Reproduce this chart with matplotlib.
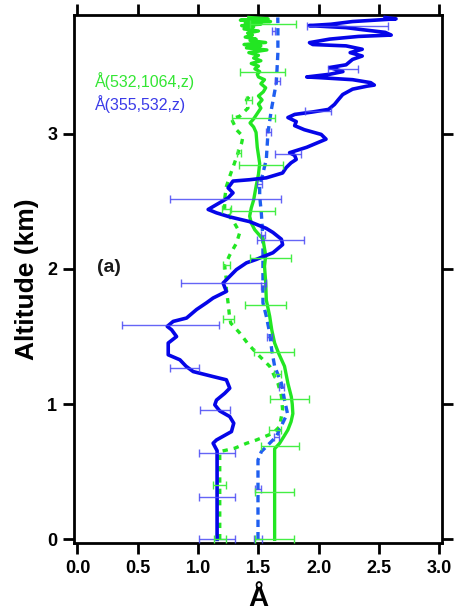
import matplotlib
matplotlib.use("Agg")
import matplotlib.pyplot as plt

plt.rcParams['font.family'] = ['Liberation Sans', 'DejaVu Sans']

# Angstrom exponent profiles: altitude (km) and exponent value
alt_b355 = [0.00, 0.656, 0.711, 0.735, 0.797, 0.859, 0.908, 0.950, 0.995, 1.03, 1.08, 1.118,
            1.18, 1.204, 1.241, 1.28, 1.328, 1.365, 1.452, 1.50, 1.55, 1.575, 1.612, 1.637,
            1.70, 1.75, 1.785, 1.834, 1.896, 1.92, 1.995, 2.045, 2.07, 2.12, 2.18, 2.22,
            2.27, 2.30, 2.35, 2.385, 2.415, 2.44, 2.476, 2.526, 2.563, 2.60, 2.65, 2.66,
            2.674, 2.71, 2.75, 2.785, 2.81, 2.84, 2.86, 2.90, 2.93, 2.96, 2.995, 3.03,
            3.06, 3.09, 3.12, 3.143, 3.16, 3.18, 3.217, 3.25, 3.29, 3.33, 3.352, 3.36,
            3.378, 3.40, 3.415, 3.42, 3.44, 3.46, 3.49, 3.51, 3.55, 3.575, 3.60, 3.625,
            3.65, 3.66, 3.674, 3.70, 3.72, 3.73, 3.75, 3.77, 3.785, 3.80, 3.81, 3.83,
            3.85, 3.86]
ang_b355 = [1.157, 1.157, 1.124, 1.152, 1.276, 1.295, 1.262, 1.179, 1.138, 1.152, 1.22, 1.262,
            1.234, 1.124, 0.959, 0.90, 0.849, 0.752, 0.752, 0.821, 0.780, 0.744, 0.793, 0.904,
            0.987, 1.07, 1.124, 1.234, 1.207, 1.234, 1.317, 1.40, 1.48, 1.62, 1.70, 1.69,
            1.62, 1.565, 1.427, 1.262, 1.152, 1.083, 1.152, 1.248, 1.289, 1.248, 1.289, 1.427,
            1.565, 1.70, 1.73, 1.77, 1.813, 1.80, 1.758, 1.90, 1.98, 2.06, 2.02, 1.88,
            1.80, 1.813, 1.744, 1.80, 1.94, 2.08, 2.13, 2.16, 2.198, 2.28, 2.40, 2.46,
            2.43, 2.28, 2.006, 1.90, 2.09, 2.20, 2.09, 2.226, 2.28, 2.36, 2.26, 2.36,
            2.226, 1.95, 1.923, 2.09, 2.33, 2.60, 2.55, 2.36, 2.226, 1.92, 2.10, 2.28,
            2.64, 2.55]

alt_b355_n = [0.00, 0.587, 0.649, 0.711, 0.76, 0.859, 0.933, 1.03, 1.155, 1.28, 1.40, 1.526,
              1.65, 1.75, 1.946, 2.22, 2.41, 2.54, 2.61, 2.81, 3.01, 3.18, 3.378, 3.60,
              3.80, 3.86]
ang_b355_n = [1.496, 1.496, 1.524, 1.593, 1.648, 1.70, 1.74, 1.716, 1.69, 1.634, 1.61, 1.593,
              1.565, 1.537, 1.537, 1.537, 1.524, 1.51, 1.51, 1.565, 1.579, 1.607, 1.648, 1.661,
              1.661, 1.66]

alt_g532 = [0.00, 0.67, 0.71, 0.76, 0.81, 0.87, 0.93, 1.00, 1.056, 1.15, 1.28, 1.37,
            1.452, 1.55, 1.65, 1.77, 1.90, 2.02, 2.10, 2.22, 2.29, 2.34, 2.39, 2.45,
            2.51, 2.61, 2.70, 2.78, 2.90, 3.01, 3.05, 3.08, 3.11, 3.15, 3.19, 3.22,
            3.25, 3.28, 3.31, 3.34, 3.37, 3.40, 3.42, 3.44, 3.46, 3.48, 3.50, 3.52,
            3.54, 3.56, 3.58, 3.60, 3.62, 3.635, 3.65, 3.66, 3.675, 3.69, 3.70, 3.715,
            3.73, 3.745, 3.76, 3.775, 3.79, 3.80, 3.81, 3.82, 3.83, 3.84, 3.85, 3.86]
ang_g532 = [1.634, 1.634, 1.675, 1.71, 1.744, 1.77, 1.785, 1.78, 1.772, 1.745, 1.716, 1.67,
            1.634, 1.61, 1.593, 1.565, 1.56, 1.55, 1.56, 1.537, 1.469, 1.44, 1.427, 1.44,
            1.46, 1.48, 1.50, 1.51, 1.49, 1.48, 1.46, 1.43, 1.46, 1.49, 1.52, 1.50,
            1.53, 1.50, 1.54, 1.56, 1.52, 1.55, 1.50, 1.49, 1.51, 1.47, 1.50, 1.44,
            1.52, 1.46, 1.50, 1.42, 1.57, 1.40, 1.52, 1.38, 1.56, 1.43, 1.48, 1.39,
            1.45, 1.41, 1.50, 1.38, 1.46, 1.36, 1.52, 1.39, 1.60, 1.35, 1.58, 1.42]

alt_g532_n = [0.00, 0.649, 0.674, 0.71, 0.735, 0.785, 0.834, 0.958, 1.06, 1.155, 1.28, 1.378,
              1.45, 1.526, 1.60, 1.65, 1.75, 1.85, 1.92, 2.02, 2.10, 2.19, 2.27, 2.34,
              2.44, 2.52, 2.61, 2.686, 2.78, 2.86, 2.93, 2.98, 3.03, 3.06, 3.11, 3.13,
              3.19, 3.25, 3.30]
ang_g532_n = [1.179, 1.179, 1.303, 1.40, 1.483, 1.62, 1.675, 1.70, 1.69, 1.661, 1.593, 1.483,
              1.41, 1.345, 1.27, 1.26, 1.248, 1.234, 1.234, 1.22, 1.26, 1.317, 1.345, 1.30,
              1.22, 1.22, 1.234, 1.262, 1.30, 1.331, 1.36, 1.372, 1.317, 1.303, 1.276, 1.345,
              1.413, 1.40, 1.45]

# Uncertainty bars: altitude, centre value, half-width
err_b355_alt = [0.0, 0.316, 0.637, 0.958, 1.267, 1.582, 1.896, 2.217, 2.52, 2.847, 3.167, 3.476, 3.80]
err_b355_val = [1.157, 1.157, 1.157, 1.14, 0.89, 0.773, 1.21, 1.684, 1.228, 1.745, 1.994, 2.20, 2.24]
err_b355_err = [0.152, 0.152, 0.152, 0.127, 0.12, 0.40, 0.355, 0.196, 0.46, 0.11, 0.107, 0.124, 0.335]

err_b355n_alt = [0.0, 0.375, 0.76, 1.125, 1.50, 1.875, 2.25, 2.63, 3.01, 3.39, 3.76]
err_b355n_val = [1.496, 1.496, 1.65, 1.69, 1.59, 1.537, 1.537, 1.51, 1.58, 1.655, 1.625]
err_b355n_err = [0.03, 0.028, 0.02, 0.02, 0.02, 0.02, 0.02, 0.02, 0.02, 0.02, 0.015]

err_g532_alt = [0.0, 0.348, 0.693, 1.041, 1.385, 1.735, 2.08, 2.432, 2.767, 3.12, 3.46, 3.81]
err_g532_val = [1.634, 1.634, 1.68, 1.755, 1.627, 1.558, 1.60, 1.448, 1.52, 1.46, 1.535, 1.62]
err_g532_err = [0.16, 0.16, 0.16, 0.16, 0.165, 0.17, 0.17, 0.186, 0.18, 0.18, 0.185, 0.19]

err_g532n_alt = [0.0, 0.40, 0.81, 1.22, 1.63, 2.03, 2.44, 2.86, 3.25]
err_g532n_val = [1.18, 1.18, 1.64, 1.66, 1.255, 1.235, 1.235, 1.34, 1.425]
err_g532n_err = [0.05, 0.055, 0.05, 0.028, 0.045, 0.028, 0.04, 0.018, 0.025]

x_ticks = [0.0, 0.5, 1.0, 1.5, 2.0, 2.5, 3.0]
y_ticks = [0, 1, 2, 3]

BLUE = '#0505e8'
BLUE_D = '#1f5ff0'
GREEN = '#22e622'
BLUE_E = '#4a4af5'
GREEN_E = '#44ee44'

fig = plt.figure(figsize=(4.56, 6.16), dpi=100)
ax = fig.add_axes([0.162, 0.1185, 0.807, 0.8575])

ebkw = dict(fmt='none', elinewidth=1.0, capsize=2.6, capthick=1.0, zorder=4)
ax.errorbar(err_b355_val, err_b355_alt, xerr=err_b355_err, ecolor=BLUE_E, alpha=0.85, **ebkw)
ax.errorbar(err_b355n_val, err_b355n_alt, xerr=err_b355n_err, ecolor=BLUE_E, alpha=0.85, **ebkw)
ax.errorbar(err_g532_val, err_g532_alt, xerr=err_g532_err, ecolor=GREEN_E, **ebkw)
ax.errorbar(err_g532n_val, err_g532n_alt, xerr=err_g532n_err, ecolor=GREEN_E, **ebkw)

ax.plot(ang_g532_n, alt_g532_n, color=GREEN, lw=2.4, ls=(0, (1.6, 1.8)), zorder=3)
ax.plot(ang_b355_n, alt_b355_n, color=BLUE_D, lw=2.4, ls=(0, (2.2, 1.5)), zorder=3)
ax.plot(ang_g532, alt_g532, color=GREEN, lw=2.4, zorder=3)
ax.plot(ang_b355, alt_b355, color=BLUE, lw=2.6, zorder=3)

ax.set_xlim(-0.03, 3.02)
ax.set_ylim(-0.027, 3.88)
ax.set_xticks(x_ticks)
ax.set_xticklabels([f'{v:.1f}' for v in x_ticks])
ax.set_yticks(y_ticks)
ax.set_yticklabels([str(v) for v in y_ticks])

for s in ax.spines.values():
    s.set_linewidth(2.0)
ax.tick_params(axis='both', which='major', direction='out', length=8, width=2,
               top=True, right=True, labelsize=13, pad=4)
for lab in ax.get_xticklabels() + ax.get_yticklabels():
    lab.set_fontweight('bold')

ax.set_xlabel('Å', fontsize=20, fontweight='bold', labelpad=7)
ax.set_ylabel('Altitude (km)', fontsize=19, fontweight='bold', labelpad=6)

ax.text(0.146, 3.387, 'Å(532,1064,z)', color='#33e633', fontsize=11.5, va='center', ha='left')
ax.text(0.146, 3.217, 'Å(355,532,z)', color='#3a3ae8', fontsize=11.5, va='center', ha='left')
ax.text(0.164, 2.01, '(a)', color='#1a1a1a', fontsize=14, fontweight='bold', va='center', ha='left')

fig.savefig('out.png', dpi=100)
